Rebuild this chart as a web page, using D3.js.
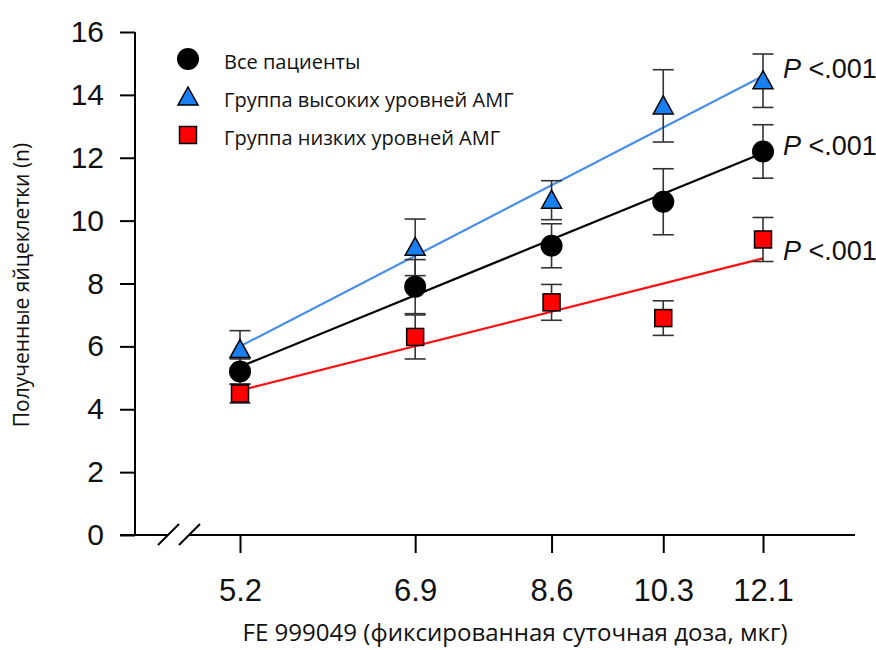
<!DOCTYPE html>
<html>
<head>
<meta charset="utf-8">
<script src="https://cdn.jsdelivr.net/npm/d3@7"></script>
<style>
  body { margin: 0; background: #fff; }
  svg text { fill: #111; }
</style>
</head>
<body>
<div id="vis"></div>
<script>
// chart data
const doses = [5.2, 6.9, 8.6, 10.3, 12.1];
const yTicks = [0, 2, 4, 6, 8, 10, 12, 14, 16];

const seriesNames = ["Все пациенты", "Группа высоких уровней АМГ", "Группа низких уровней АМГ"];
const allMean = [5.2, 7.9, 9.2, 10.6, 12.2];
const allErr = [0.4, 0.86, 0.7, 1.05, 0.85];
const highMean = [5.9, 9.15, 10.65, 13.65, 14.45];
const highErr = [0.6, 0.9, 0.62, 1.15, 0.85];
const lowMean = [4.5, 6.3, 7.4, 6.9, 9.4];
const lowErr = [0.3, 0.7, 0.57, 0.55, 0.7];
// regression line values at first and last dose
const allFit = [5.35, 12.15];
const highFit = [6.0, 14.6];
const lowFit = [4.6, 8.8];
const pLabels = ["P <.001", "P <.001", "P <.001"];

const WIDTH = 876, HEIGHT = 650;

const svg = d3.select("#vis").append("svg")
    .attr("width", WIDTH)
    .attr("height", HEIGHT);

const x = d3.scaleLog().domain([5.2, 12.1]).range([240, 763]);
const y = d3.scaleLinear().domain([0, 16]).range([535, 32]);

const numFont = "Liberation Sans, Arial, sans-serif";
const textFont = "Open Sans, sans-serif";

// y axis
const yAxis = svg.append("g")
    .attr("transform", "translate(135,0)")
    .call(d3.axisLeft(y).tickValues(yTicks).tickSize(15).tickPadding(16));
yAxis.select(".domain").remove();
yAxis.selectAll("line").attr("stroke", "#000").attr("stroke-width", 2);
yAxis.selectAll("text")
    .style("font-family", numFont)
    .style("font-size", "30px")
    .attr("fill", "#111");
svg.append("line")
    .attr("x1", 135).attr("x2", 135)
    .attr("y1", y(16)).attr("y2", y(0))
    .attr("stroke", "#000").attr("stroke-width", 2);

// x axis
const xAxis = svg.append("g")
    .attr("transform", "translate(0,535)")
    .call(d3.axisBottom(x).tickValues(doses).tickFormat(d => d).tickSize(18).tickPadding(26));
xAxis.select(".domain").remove();
xAxis.selectAll("line").attr("stroke", "#000").attr("stroke-width", 2);
xAxis.selectAll("text")
    .style("font-family", numFont)
    .style("font-size", "31px")
    .attr("fill", "#111");

// x axis line with break
svg.append("line").attr("x1", 120).attr("x2", 168).attr("y1", 535).attr("y2", 535)
    .attr("stroke", "#000").attr("stroke-width", 2);
svg.append("line").attr("x1", 189).attr("x2", 855).attr("y1", 535).attr("y2", 535)
    .attr("stroke", "#000").attr("stroke-width", 2);
[158, 179].forEach(bx => {
  svg.append("line")
      .attr("x1", bx).attr("y1", 545).attr("x2", bx + 21).attr("y2", 524)
      .attr("stroke", "#000").attr("stroke-width", 2);
});

// fit lines
const fits = [
  {vals: highFit, color: "#4a8fe7"},
  {vals: allFit, color: "#000"},
  {vals: lowFit, color: "#ff1010"}
];
fits.forEach(f => {
  svg.append("line")
      .attr("x1", x(doses[0])).attr("y1", y(f.vals[0]))
      .attr("x2", x(doses[doses.length - 1])).attr("y2", y(f.vals[1]))
      .attr("stroke", f.color).attr("stroke-width", 2.2);
});

// error bars
const groups = [
  {mean: highMean, err: highErr, shape: "triangle"},
  {mean: allMean, err: allErr, shape: "circle"},
  {mean: lowMean, err: lowErr, shape: "square"}
];
groups.forEach(g => {
  const eb = svg.append("g").selectAll("g")
      .data(doses.map((d, i) => ({d: d, m: g.mean[i], e: g.err[i]})))
      .enter().append("g");
  eb.append("line")
      .attr("x1", d => x(d.d)).attr("x2", d => x(d.d))
      .attr("y1", d => y(d.m + d.e)).attr("y2", d => y(d.m - d.e))
      .attr("stroke", "#333").attr("stroke-width", 1.6);
  [1, -1].forEach(s => {
    eb.append("line")
        .attr("x1", d => x(d.d) - 10.5).attr("x2", d => x(d.d) + 10.5)
        .attr("y1", d => y(d.m + s * d.e)).attr("y2", d => y(d.m + s * d.e))
        .attr("stroke", "#333").attr("stroke-width", 1.6);
  });
});

// markers
function drawMarker(sel, shape) {
  if (shape === "circle") {
    sel.append("circle").attr("r", 11).attr("fill", "#000");
  } else if (shape === "triangle") {
    sel.append("path").attr("d", "M0,-10 L10,8 L-10,8 Z")
        .attr("fill", "#1a7ff0").attr("stroke", "#000").attr("stroke-width", 1.5);
  } else {
    sel.append("rect").attr("x", -8.5).attr("y", -8.5).attr("width", 17).attr("height", 17)
        .attr("fill", "#ff0000").attr("stroke", "#000").attr("stroke-width", 1.5);
  }
}
groups.forEach(g => {
  doses.forEach((d, i) => {
    const m = svg.append("g").attr("transform", `translate(${x(d)},${y(g.mean[i])})`);
    drawMarker(m, g.shape);
  });
});

// P values next to last point
const pY = [y(14.85), y(12.4), y(9.05)];
pLabels.forEach((p, i) => {
  const t = svg.append("text")
      .attr("x", 783).attr("y", pY[i]).attr("dy", "0.35em")
      .style("font-family", numFont)
      .style("font-size", "27px");
  t.append("tspan").style("font-style", "italic").text(p.split(" ")[0]);
  t.append("tspan").text(" " + p.split(" ")[1]);
});

// legend
const legendShapes = ["circle", "triangle", "square"];
seriesNames.forEach((name, i) => {
  const ly = 59 + i * 38;
  const m = svg.append("g").attr("transform", `translate(188,${ly})`);
  drawMarker(m, legendShapes[i]);
  svg.append("text")
      .attr("x", 224).attr("y", ly + 3).attr("dy", "0.35em")
      .style("font-family", textFont)
      .style("font-size", "20px")
      .attr("fill", "#222")
      .text(name);
});

// axis titles
svg.append("text")
    .attr("transform", "translate(22,285) rotate(-90)")
    .attr("text-anchor", "middle")
    .attr("dy", "0.35em")
    .style("font-family", textFont)
    .style("font-size", "21px")
    .attr("fill", "#222")
    .text("Полученные яйцеклетки (n)");

svg.append("text")
    .attr("x", 515).attr("y", 633)
    .attr("text-anchor", "middle")
    .attr("dy", "0.35em")
    .attr("textLength", 545)
    .attr("lengthAdjust", "spacingAndGlyphs")
    .style("font-family", textFont)
    .style("font-size", "23px")
    .attr("fill", "#222")
    .text("FE 999049 (фиксированная суточная доза, мкг)");
</script>
</body>
</html>
